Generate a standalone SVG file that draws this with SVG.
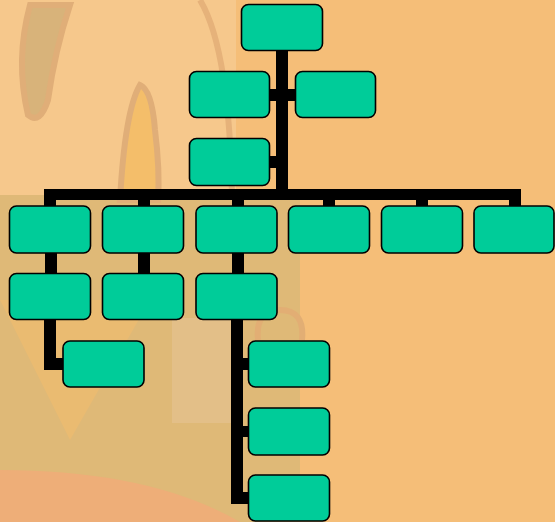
<svg xmlns="http://www.w3.org/2000/svg" width="555" height="522" viewBox="0 0 555 522">
<style>
.n{fill:#00CC99;stroke:#000;stroke-width:1.6}
.c{fill:#000}
</style>
<g id="background">
<rect x="0" y="0" width="555" height="522" fill="#F5BE78"/>
<rect x="0" y="0" width="236" height="200" fill="#F6C88C"/>
<rect x="0" y="195" width="300" height="327" fill="#DFB977"/>
<rect x="172" y="318" width="70" height="105" fill="#E3BF88"/>
<path d="M0 470 Q150 470 240 522 L0 522 Z" fill="#EEAE78"/>
<path d="M0 300 L70 440 L150 300 Z" fill="#F2BD6E" opacity="0.6"/>
<path d="M30 5 Q15 60 28 115 Q40 125 48 100 Q55 50 70 5 Z" fill="#D8B37A" stroke="#E0AE78" stroke-width="6"/>
<path d="M120 200 Q125 110 140 85 Q152 90 155 130 Q160 170 158 200 Z" fill="#F4BE6A" stroke="#E0AE78" stroke-width="6"/>
<path d="M200 0 Q230 50 232 200" fill="none" stroke="#E6B27A" stroke-width="6"/>
<path d="M258 340 Q255 310 280 310 Q305 310 302 340" fill="none" stroke="#E2AE74" stroke-width="6"/>
</g>
<g id="connectors">
<rect class="c" x="276" y="50" width="12" height="145"/>
<rect class="c" x="269" y="89" width="27" height="12"/>
<rect class="c" x="269" y="156" width="10" height="12"/>
<rect class="c" x="44" y="189" width="477" height="11"/>
<rect class="c" x="44" y="195" width="12" height="12"/>
<rect class="c" x="138" y="195" width="12" height="12"/>
<rect class="c" x="232" y="195" width="12" height="12"/>
<rect class="c" x="323" y="195" width="12" height="12"/>
<rect class="c" x="416" y="195" width="12" height="12"/>
<rect class="c" x="509" y="195" width="12" height="12"/>
<rect class="c" x="45" y="252" width="12" height="22"/>
<rect class="c" x="138" y="252" width="12" height="22"/>
<rect class="c" x="232" y="252" width="12" height="22"/>
<path class="c" d="M44 319 H56 V358 H64 V370 H44 Z"/>
<rect class="c" x="231" y="319" width="12" height="185"/>
<rect class="c" x="240" y="358" width="10" height="12"/>
<rect class="c" x="240" y="426" width="10" height="11"/>
<rect class="c" x="240" y="492" width="10" height="12"/>
</g>
<g id="n1"><rect class="n" x="241.5" y="4.5" width="81" height="46" rx="7"/></g>
<g id="n2"><rect class="n" x="189.5" y="71.5" width="80" height="46" rx="7"/></g>
<g id="n3"><rect class="n" x="295.5" y="71.5" width="80" height="46" rx="7"/></g>
<g id="n4"><rect class="n" x="189.5" y="138.5" width="80" height="47" rx="7"/></g>
<g id="n5"><rect class="n" x="9.5" y="206" width="81" height="47" rx="7"/></g>
<g id="n6"><rect class="n" x="102.5" y="206" width="81" height="47" rx="7"/></g>
<g id="n7"><rect class="n" x="196" y="206" width="81" height="47" rx="7"/></g>
<g id="n8"><rect class="n" x="288.5" y="206" width="81" height="47" rx="7"/></g>
<g id="n9"><rect class="n" x="381.5" y="206" width="81" height="47" rx="7"/></g>
<g id="n10"><rect class="n" x="474" y="206" width="80" height="47" rx="7"/></g>
<g id="n11"><rect class="n" x="9.5" y="273.5" width="81" height="46" rx="7"/></g>
<g id="n12"><rect class="n" x="102.5" y="273.5" width="81" height="46" rx="7"/></g>
<g id="n13"><rect class="n" x="196" y="273.5" width="81" height="46" rx="7"/></g>
<g id="n14"><rect class="n" x="63" y="341" width="81" height="46" rx="7"/></g>
<g id="n15"><rect class="n" x="248.5" y="341" width="81" height="46" rx="7"/></g>
<g id="n16"><rect class="n" x="248.5" y="408" width="81" height="47" rx="7"/></g>
<g id="n17"><rect class="n" x="248.5" y="475" width="81" height="46" rx="7"/></g>
</svg>
